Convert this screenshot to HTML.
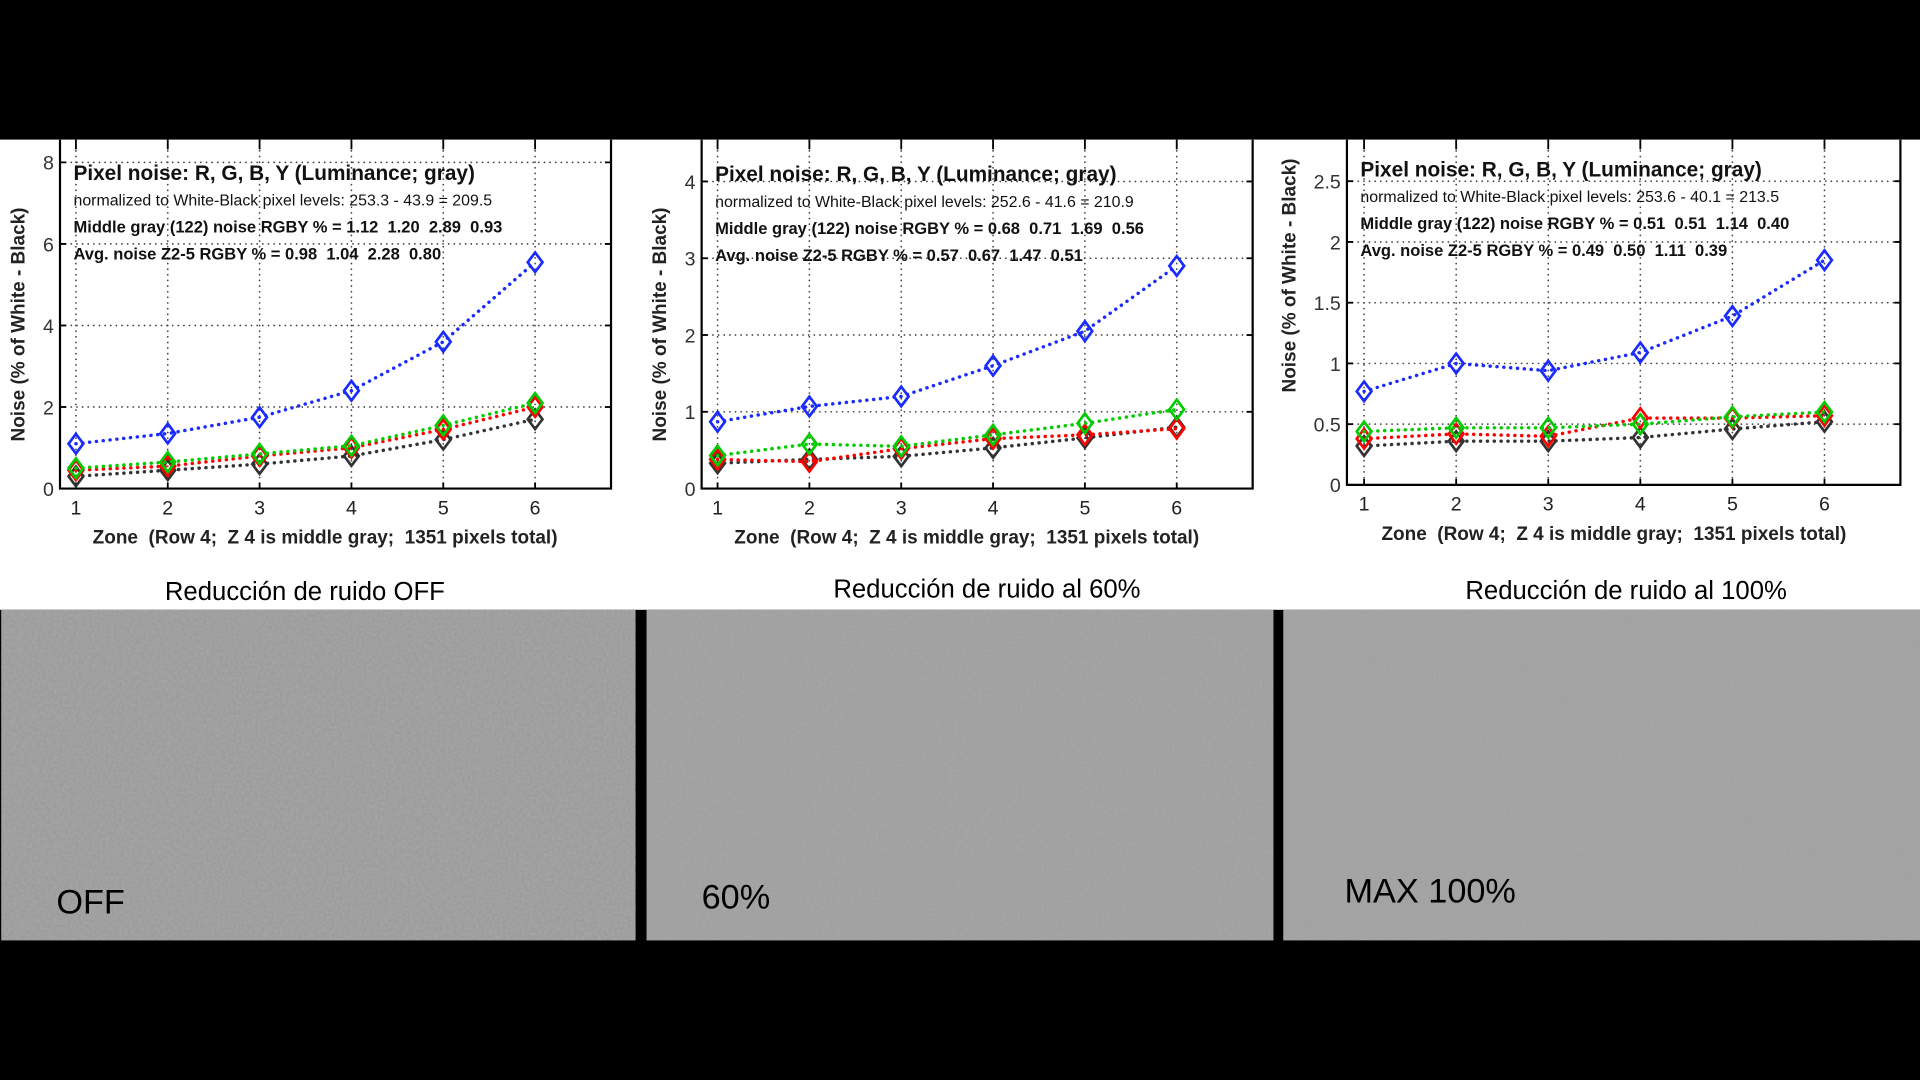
<!DOCTYPE html>
<html><head><meta charset="utf-8"><style>
html,body{margin:0;padding:0;background:#000;width:1920px;height:1080px;overflow:hidden}
svg{display:block}
text{font-family:"Liberation Sans",Arial,sans-serif;white-space:pre}
</style></head><body>
<svg id="fig" width="1920" height="1080" viewBox="0 0 1568 882" preserveAspectRatio="none" xmlns="http://www.w3.org/2000/svg" xml:space="preserve">
<defs>
<filter id="grain" x="0" y="0" width="100%" height="100%">
<feTurbulence type="fractalNoise" baseFrequency="0.45" numOctaves="1" seed="3"/>
<feColorMatrix type="matrix" values="0 0 0 0 0.6  0 0 0 0 0.6  0 0 0 0 0.6  1 0 0 0 -0.2"/>
</filter>
<clipPath id="whiteclip"><rect x="0" y="114" width="1568" height="384"/></clipPath>
</defs>
<rect x="0" y="0" width="1568" height="882" fill="#000"/>
<rect x="0" y="114" width="1568" height="384" fill="#fff"/>
<g>
<rect x="1" y="498" width="518" height="270" fill="#9b9b9b"/>
<rect x="1" y="498" width="518" height="270" filter="url(#grain)" opacity="0.35"/>
<text x="46" y="746" font-size="28" fill="#000">OFF</text>
</g>
<g>
<rect x="528" y="498" width="512" height="270" fill="#a0a0a0"/>
<rect x="528" y="498" width="512" height="270" filter="url(#grain)" opacity="0.2"/>
<text x="573" y="742" font-size="28" fill="#000">60%</text>
</g>
<g>
<rect x="1048" y="498" width="520" height="270" fill="#a2a2a2"/>
<rect x="1048" y="498" width="520" height="270" filter="url(#grain)" opacity="0.12"/>
<text x="1098" y="737" font-size="28" fill="#000">MAX 100%</text>
</g>
</svg>
<script>
// Chart 1 (OFF)
const zones = [1,2,3,4,5,6];
const off_blue  = [1.1, 1.35, 1.75, 2.4, 3.6, 5.55];
const off_green = [0.5, 0.65, 0.85, 1.05, 1.55, 2.1];
const off_red   = [0.45, 0.55, 0.8, 1.0, 1.45, 2.0];
const off_black = [0.3, 0.45, 0.6, 0.8, 1.2, 1.7];
const off_yticks = [0,2,4,6,8];
const off_texts = ["Pixel noise: R, G, B, Y (Luminance; gray)","normalized to White-Black pixel levels: 253.3 - 43.9 = 209.5","Middle gray (122) noise RGBY % = 1.12  1.20  2.89  0.93","Avg. noise Z2-5 RGBY % = 0.98  1.04  2.28  0.80"];
// Chart 2 (60%)
const p60_blue  = [0.87, 1.07, 1.2, 1.6, 2.05, 2.9];
const p60_green = [0.43, 0.58, 0.55, 0.7, 0.85, 1.03];
const p60_red   = [0.38, 0.35, 0.52, 0.65, 0.7, 0.78];
const p60_black = [0.33, 0.38, 0.42, 0.53, 0.66, 0.8];
const p60_yticks = [0,1,2,3,4];
const p60_texts = ["Pixel noise: R, G, B, Y (Luminance; gray)","normalized to White-Black pixel levels: 252.6 - 41.6 = 210.9","Middle gray (122) noise RGBY % = 0.68  0.71  1.69  0.56","Avg. noise Z2-5 RGBY % = 0.57  0.67  1.47  0.51"];
// Chart 3 (100%)
const p100_blue  = [0.77, 1.0, 0.94, 1.09, 1.39, 1.85];
const p100_green = [0.44, 0.47, 0.47, 0.5, 0.56, 0.6];
const p100_red   = [0.38, 0.42, 0.4, 0.55, 0.55, 0.57];
const p100_black = [0.32, 0.36, 0.36, 0.39, 0.46, 0.52];
const p100_yticks = [0,0.5,1,1.5,2,2.5];
const p100_texts = ["Pixel noise: R, G, B, Y (Luminance; gray)","normalized to White-Black pixel levels: 253.6 - 40.1 = 213.5","Middle gray (122) noise RGBY % = 0.51  0.51  1.14  0.40","Avg. noise Z2-5 RGBY % = 0.49  0.50  1.11  0.39"];

const NS="http://www.w3.org/2000/svg";
const svg=document.getElementById('fig');
function mk(tag,attrs,parent){const e=document.createElementNS(NS,tag);for(const k in attrs)e.setAttribute(k,attrs[k]);parent.appendChild(e);return e;}

function drawChart(cfg){
  const g=mk('g',{'clip-path':'url(#whiteclip)'},svg);
  
  
  const x=z=>cfg.x1+(z-1)*(cfg.x6-cfg.x1)/5;
  const y=v=>cfg.y0-v*cfg.ppu;
  const top=114;
  zones.forEach(z=>{
    const l=mk('line',{x1:x(z),x2:x(z),y1:top,y2:cfg.y0,stroke:'#444','stroke-width':1.4,'stroke-dasharray':'0.1 4.5','stroke-linecap':'round'},g);
    
    
    mk('line',{x1:x(z),x2:x(z),y1:cfg.y0,y2:cfg.y0-5,stroke:'#000','stroke-width':1.5},g);
    mk('line',{x1:x(z),x2:x(z),y1:top,y2:top+8,stroke:'#000','stroke-width':1.5},g);
    const t=mk('text',{x:x(z),y:cfg.y0+21,'font-size':16,'text-anchor':'middle',fill:'#222'},g);
    t.textContent=z;
    
    
  });
  cfg.yticks.forEach(v=>{
    if(v>0){const l=mk('line',{x1:cfg.xl,x2:cfg.xr,y1:y(v),y2:y(v),stroke:'#444','stroke-width':1.4,'stroke-dasharray':'0.1 4.5','stroke-linecap':'round'},g);
    
    }
    mk('line',{x1:cfg.xl,x2:cfg.xl+5,y1:y(v),y2:y(v),stroke:'#000','stroke-width':1.5},g);
    mk('line',{x1:cfg.xr,x2:cfg.xr-5,y1:y(v),y2:y(v),stroke:'#000','stroke-width':1.5},g);
    const t=mk('text',{x:cfg.xl-5,y:y(v)+6,'font-size':16,'text-anchor':'end',fill:'#333'},g);
    t.textContent=v;
    
    
  });
  const ax=mk('path',{d:`M${cfg.xl},${top} V${cfg.y0} H${cfg.xr} V${top}`,fill:'none',stroke:'#000','stroke-width':1.8},g);
  
  
  const series=[[cfg.black,'#333','series-y-gray'],[cfg.red,'#f00','series-red'],[cfg.green,'#0c0','series-green'],[cfg.blue,'#1a2bff','series-blue']];
  series.forEach(([vals,col,nm])=>{
    const sg=mk('g',{},g);
    
    
    const pts=vals.map((v,i)=>x(zones[i])+','+y(v)).join(' ');
    mk('polyline',{points:pts,fill:'none',stroke:col,'stroke-width':2.8,'stroke-dasharray':'0.1 5.5','stroke-linecap':'round'},sg);
    vals.forEach((v,i)=>{
      const cx=x(zones[i]),cy=y(v);
      const d=mk('path',{d:`M${cx},${cy-8} L${cx+6},${cy} L${cx},${cy+8} L${cx-6},${cy} Z`,fill:'none',stroke:col,'stroke-width':2.2},sg);
      
      
    });
  });
  const tx=cfg.xl+11;
  const sizes=[[17,'bold'],[13,'normal'],[13.5,'bold'],[13.5,'bold']];
  cfg.texts.forEach((s,i)=>{
    const t=mk('text',{x:tx,y:cfg.ty[i],'font-size':sizes[i][0],'font-weight':sizes[i][1],fill:'#111'},g);
    t.textContent=s;
    
    
  });
  const xl=mk('text',{x:(x(1)+x(6))/2+16,y:cfg.y0+45,'font-size':15.5,'font-weight':'bold','text-anchor':'middle',fill:'#222'},g);
  xl.textContent='Zone  (Row 4;  Z 4 is middle gray;  1351 pixels total)';
  
  
  const yl=mk('text',{x:0,y:0,'font-size':15.5,'font-weight':'bold','text-anchor':'middle',fill:'#222',transform:`translate(${cfg.ylx},${cfg.yly}) rotate(-90)`},g);
  yl.textContent='Noise (% of White - Black)';
  
  
  const cap=mk('text',{x:cfg.capx,y:cfg.capy,'font-size':21,'text-anchor':'middle',fill:'#000'},g);
  cap.textContent=cfg.caption;
  
  
}

drawChart({name:'chart-noise-off',x1:62,x6:437,xl:49,xr:499,y0:399,ppu:33.3,yticks:off_yticks,
  blue:off_blue,green:off_green,red:off_red,black:off_black,texts:off_texts,ty:[147,168,190,212],
  ylx:20,yly:265,capx:249,capy:490,caption:'Reducción de ruido OFF'});
drawChart({name:'chart-noise-60',x1:586,x6:961,xl:573,xr:1023,y0:399,ppu:62.7,yticks:p60_yticks,
  blue:p60_blue,green:p60_green,red:p60_red,black:p60_black,texts:p60_texts,ty:[148,169,191,213],
  ylx:544,yly:265,capx:806,capy:488,caption:'Reducción de ruido al 60%'});
drawChart({name:'chart-noise-100',x1:1114,x6:1490,xl:1100,xr:1552,y0:396,ppu:99.2,yticks:p100_yticks,
  blue:p100_blue,green:p100_green,red:p100_red,black:p100_black,texts:p100_texts,ty:[144,165,187,209],
  ylx:1058,yly:225,capx:1328,capy:489,caption:'Reducción de ruido al 100%'});
</script>
</body></html>
